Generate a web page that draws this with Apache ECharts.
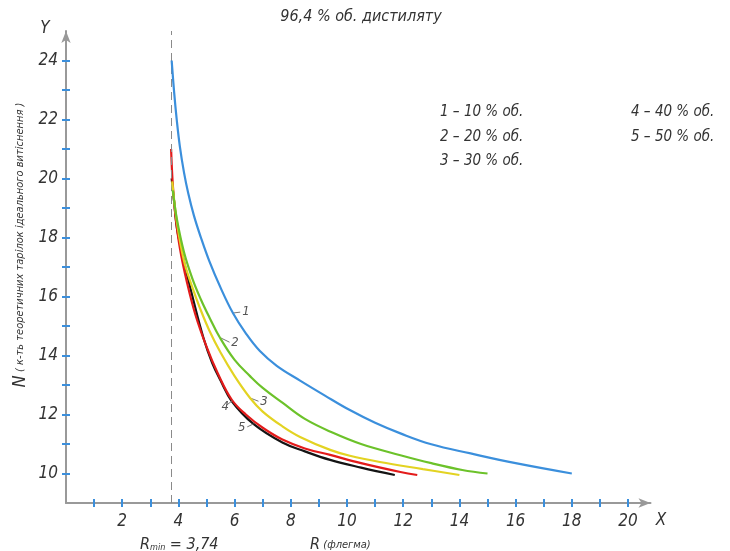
<!DOCTYPE html>
<html>
<head>
<meta charset="utf-8">
<script src="https://cdn.jsdelivr.net/npm/echarts@6/dist/echarts.min.js"></script>
<style>
html, body { margin: 0; background: #fff; }
#main { width: 730px; height: 551px; }
</style>
</head>
<body>
<div id="main"></div>
<script>
// reflux ratio R (x) vs number of theoretical plates N (y), one pair of arrays per curve
const r1 = [3.76, 3.85, 3.94, 4.05, 4.2, 4.35, 4.55, 4.8, 5.1, 5.5, 5.94, 6.4, 6.9, 7.5, 8.33, 9.2, 10.1, 11.0, 11.9, 13.0, 14.4, 16.0, 18.0];
const n1 = [24.0, 22.9, 22.0, 21.1, 20.2, 19.5, 18.75, 18.0, 17.2, 16.3, 15.44, 14.75, 14.15, 13.65, 13.15, 12.65, 12.15, 11.72, 11.36, 10.99, 10.68, 10.35, 10.0];
const r2 = [3.8, 3.95, 4.2, 4.5, 4.8, 5.1, 5.48, 6.0, 6.55, 7.0, 7.7, 8.5, 9.5, 10.5, 11.9, 13.0, 14.1, 15.0];
const n2 = [19.6, 18.6, 17.5, 16.6, 15.9, 15.3, 14.6, 13.85, 13.3, 12.9, 12.4, 11.85, 11.38, 11.0, 10.62, 10.35, 10.12, 10.0];
const r3 = [3.78, 3.95, 4.2, 4.5, 4.77, 5.1, 5.5, 6.0, 6.55, 7.0, 7.7, 8.33, 9.4, 10.1, 11.17, 12.7, 14.0];
const n3 = [19.9, 18.5, 17.2, 16.3, 15.6, 14.85, 14.1, 13.3, 12.56, 12.1, 11.6, 11.24, 10.8, 10.6, 10.39, 10.15, 9.95];
const r4 = [3.74, 3.8, 3.9, 4.06, 4.3, 4.6, 5.0, 5.4, 5.9, 6.4, 7.0, 7.7, 8.5, 9.4, 10.5, 11.9, 12.5];
const n4 = [21.0, 19.8, 18.7, 17.6, 16.5, 15.4, 14.3, 13.4, 12.5, 12.0, 11.55, 11.15, 10.85, 10.63, 10.35, 10.05, 9.95];
const r5 = [3.76, 3.85, 3.95, 4.17, 4.5, 4.89, 5.2, 5.5, 5.9, 6.67, 7.7, 8.5, 9.4, 10.5, 11.7];
const n5 = [20.0, 19.2, 18.3, 17.3, 16.0, 14.6, 13.75, 13.15, 12.45, 11.68, 11.05, 10.75, 10.46, 10.2, 9.95];

const curveNames = ['1', '2', '3', '4', '5'];
const legendText = ['1 – 10 % об.', '2 – 20 % об.', '3 – 30 % об.', '4 – 40 % об.', '5 – 50 % об.'];
const colors = ['#3b8fdc', '#6cc22a', '#e3d322', '#e31b1b', '#141414'];

// leader lines for curve numbers: [point on curve, point next to the number]
const leaders = [
  [[5.94, 15.44], [6.2, 15.47]],
  [[5.5, 14.6], [5.82, 14.45]],
  [[6.55, 12.56], [6.85, 12.45]],
  [[5.92, 12.47], [5.72, 12.32]],
  [[6.67, 11.68], [6.45, 11.58]]
];

const rMin = 3.74;
const xMinor = [1, 2, 3, 4, 5, 6, 7, 8, 9, 10, 11, 12, 13, 14, 15, 16, 17, 18, 19, 20];
const xLabels = [2, 4, 6, 8, 10, 12, 14, 16, 18, 20];
const yMinor = [10, 11, 12, 13, 14, 15, 16, 17, 18, 19, 20, 21, 22, 23, 24];
const yLabels = [10, 12, 14, 16, 18, 20, 22, 24];

const FONT = '"Liberation Sans Narrow", "DejaVu Sans Condensed", "Open Sans", sans-serif';
const TXT = '#333';

let chart = echarts.init(document.getElementById('main'));

const rs = [r1, r2, r3, r4, r5];
const ns = [n1, n2, n3, n4, n5];

let series = rs.map(function(r, i) {
  let pts = r.map(function(x, k) { return [x, ns[i][k]]; });
  let ml = [[
    { coord: leaders[i][0] },
    { coord: leaders[i][1] }
  ]];
  if (i === 0) {
    ml.unshift({
      xAxis: rMin,
      lineStyle: { type: [8, 5], color: '#8a8a8a', width: 1 },
      label: { show: false }
    });
  }
  return {
    type: 'line',
    name: curveNames[i],
    data: pts,
    smooth: 0.4,
    showSymbol: false,
    z: 5 - i + 2,
    lineStyle: { color: colors[i], width: 2.2 },
    markLine: {
      silent: true,
      symbol: ['none', 'none'],
      animation: false,
      lineStyle: { color: '#777', width: 1, type: 'solid' },
      label: {
        show: true,
        position: 'end',
        distance: 2,
        formatter: curveNames[i],
        color: '#555',
        fontFamily: FONT,
        fontStyle: 'italic',
        fontSize: 13
      },
      data: ml
    }
  };
});

let axisFont = { color: TXT, fontSize: 17, fontStyle: 'italic', fontFamily: FONT };

let graphic = [
  { type: 'text', x: 361, y: 17, style: { text: '96,4 % об. дистиляту', fill: TXT, font: 'italic 16px ' + FONT, align: 'center', verticalAlign: 'middle' } },
  { type: 'text', x: 45, y: 29, style: { text: 'Y', fill: TXT, font: 'italic 17px ' + FONT, align: 'center', verticalAlign: 'middle' } },
  { type: 'text', x: 661, y: 521, style: { text: 'X', fill: TXT, font: 'italic 17px ' + FONT, align: 'center', verticalAlign: 'middle' } },
  {
    type: 'text', x: 20, y: 245, rotation: Math.PI / 2,
    style: {
      text: '{n|N} {t|( к-ть теоретичних тарілок ідеального витіснення )}',
      align: 'center', verticalAlign: 'middle',
      rich: {
        n: { fill: TXT, font: 'italic 18px ' + FONT },
        t: { fill: TXT, font: 'italic 11px ' + FONT }
      }
    }
  },
  {
    type: 'text', x: 140, y: 545,
    style: {
      text: '{r|R}{s|min}{r| = 3,74}',
      verticalAlign: 'middle',
      rich: {
        r: { fill: TXT, font: 'italic 16px ' + FONT },
        s: { fill: TXT, font: 'italic 9px ' + FONT, padding: [6, 0, 0, 0] }
      }
    }
  },
  {
    type: 'text', x: 310, y: 545,
    style: {
      text: '{r|R} {s|(флегма)}',
      verticalAlign: 'middle',
      rich: {
        r: { fill: TXT, font: 'italic 16px ' + FONT },
        s: { fill: TXT, font: 'italic 11px ' + FONT }
      }
    }
  }
];

const legendPos = [[440, 112], [440, 137], [440, 161], [631, 112], [631, 137]];
legendText.forEach(function(t, i) {
  graphic.push({
    type: 'text', x: legendPos[i][0], y: legendPos[i][1],
    style: { text: t, fill: TXT, font: 'italic 15px ' + FONT, verticalAlign: 'middle' }
  });
});

chart.setOption({
  animation: false,
  grid: { left: 66, top: 31, width: 584.5, height: 472 },
  xAxis: [{
    type: 'value', min: 0, max: 20.8, position: 'bottom',
    axisLine: { show: true, onZero: false, symbol: ['none', 'arrow'], symbolSize: [7, 12], lineStyle: { color: '#999', width: 2 } },
    axisTick: { show: true, customValues: xMinor, length: 4, lineStyle: { color: '#3b8fdc', width: 2 } },
    axisLabel: Object.assign({ customValues: xLabels, margin: 10 }, axisFont),
    splitLine: { show: false }
  }, {
    type: 'value', min: 0, max: 20.8, position: 'bottom',
    axisLine: { show: false, onZero: false },
    axisTick: { show: true, inside: true, customValues: xMinor, length: 4, lineStyle: { color: '#3b8fdc', width: 2 } },
    axisLabel: { show: false },
    splitLine: { show: false }
  }],
  yAxis: [{
    type: 'value', min: 9, max: 25, position: 'left',
    axisLine: { show: true, onZero: false, symbol: ['none', 'arrow'], symbolSize: [7, 12], lineStyle: { color: '#999', width: 2 } },
    axisTick: { show: true, customValues: yMinor, length: 4, lineStyle: { color: '#3b8fdc', width: 2 } },
    axisLabel: Object.assign({ customValues: yLabels, margin: 8 }, axisFont),
    splitLine: { show: false }
  }, {
    type: 'value', min: 9, max: 25, position: 'left',
    axisLine: { show: false, onZero: false },
    axisTick: { show: true, inside: true, customValues: yMinor, length: 4, lineStyle: { color: '#3b8fdc', width: 2 } },
    axisLabel: { show: false },
    splitLine: { show: false }
  }],
  graphic: graphic,
  series: series
});
</script>
</body>
</html>
